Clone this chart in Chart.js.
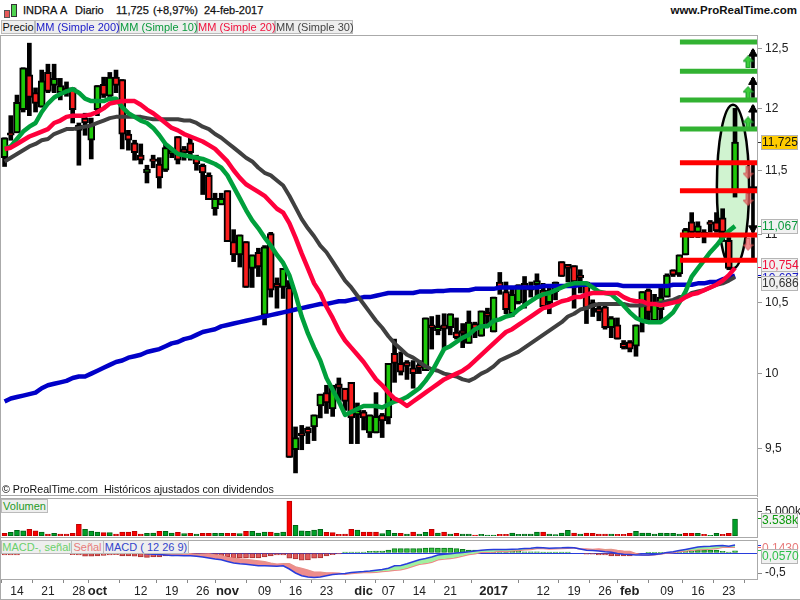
<!DOCTYPE html>
<html>
<head>
<meta charset="utf-8">
<title>INDRA A</title>
<script src="https://cdn.jsdelivr.net/npm/chart.js@4"></script>
<style>
html,body{margin:0;padding:0;background:#fff;}
#page{position:relative;width:800px;height:600px;overflow:hidden;background:#fff;font-family:"Liberation Sans",Arial,sans-serif;font-size:11px;color:#111;}
#page canvas{position:absolute;left:0;}
.txt{position:absolute;white-space:pre;}
.head{-webkit-text-stroke:0.25px #111;top:4px;word-spacing:1px;}
.chip{position:absolute;height:12px;line-height:12px;background:#eeeeee;border:1px solid #bbbbbb;text-align:center;font-size:11px;white-space:pre;box-sizing:content-box;}
.tag{position:absolute;left:761px;width:35px;height:13px;line-height:13px;background:#f1f1f1;border:1px solid #b5b5b5;text-align:center;font-size:12px;}
.rule{position:absolute;background:#aaaaaa;}
</style>
</head>
<body>
<div id="page">
  <canvas id="mainChart" width="800" height="462" style="top:35px"></canvas>
  <canvas id="volChart" width="800" height="39" style="top:498px"></canvas>
  <canvas id="macdChart" width="800" height="60" style="top:540px"></canvas>

  <!-- marcos de los paneles -->
  <div class="rule" style="left:0;top:35px;width:758px;height:1px"></div>
  <div class="rule" style="left:0;top:495px;width:758px;height:1px"></div>
  <div class="rule" style="left:0;top:498px;width:758px;height:1px"></div>
  <div class="rule" style="left:0;top:537px;width:758px;height:1px"></div>
  <div class="rule" style="left:0;top:540px;width:758px;height:1px"></div>
  <div class="rule" style="left:0;top:35px;width:1px;height:565px"></div>
  <div class="rule" style="left:0;top:599px;width:800px;height:1px"></div>
  <div class="rule" style="left:757px;top:35px;width:1px;height:461px"></div>
  <div class="rule" style="left:757px;top:498px;width:1px;height:40px"></div>
  <div class="rule" style="left:757px;top:540px;width:1px;height:40px"></div>

  <!-- icono -->
  <div style="position:absolute;left:4px;top:10px;width:4px;height:6px;background:#e85a5a;border:1px solid #555"></div>
  <div style="position:absolute;left:11px;top:4px;width:4px;height:11px;background:#4fd24f;border:1px solid #333"></div>

  <!-- cabecera -->
  <div class="txt head" style="left:23px">INDRA A</div>
  <div class="txt head" style="left:75px">Diario</div>
  <div class="txt head" style="left:116px">11,725 (+8,97%)</div>
  <div class="txt head" style="left:204px">24-feb-2017</div>
  <div class="txt" style="right:3px;top:4px;font-weight:bold;font-size:11.5px">www.ProRealTime.com</div>

  <div class="chip" style="left:1px;top:20px;width:32px;color:#111">Precio</div>
  <div class="chip" style="left:35px;top:20px;width:82px;color:#1a1ac8">MM (Simple 200)</div>
  <div class="chip" style="left:119px;top:20px;width:76px;color:#0a9a3c">MM (Simple 10)</div>
  <div class="chip" style="left:197px;top:20px;width:76px;color:#f0103c">MM (Simple 20)</div>
  <div class="chip" style="left:275px;top:20px;width:76px;color:#444">MM (Simple 30)</div>

  <div class="txt" style="left:2px;top:483px;font-size:10.7px">© ProRealTime.com  Históricos ajustados con dividendos</div>

  <div class="chip" style="left:1px;top:499px;width:45px;color:#1f9a1f">Volumen</div>
  <div class="chip" style="left:1px;top:540px;width:69px;color:#6bd06b">MACD-, señal</div>
  <div class="chip" style="left:71px;top:540px;width:31px;color:#e87b7b">Señal</div>
  <div class="chip" style="left:103px;top:540px;width:84px;color:#3344cc">MACD ( 12 26 9)</div>

  <!-- etiquetas de valor -->
  <div class="tag" style="top:135px;background:#ffcc00;color:#111">11,725</div>
  <div class="tag" style="top:219px;color:#0a9a3c">11,067</div>
  <div class="tag" style="top:258px;color:#f0103c">10,754</div>
  <div class="tag" style="top:271px;color:#1a1ac8">10,697</div>
  <div class="tag" style="top:276px;color:#333">10,686</div>
  <div class="tag" style="top:513px;color:#0a9a0a">3.538k</div>
  <div class="tag" style="top:541px;background:#fff;border-color:#fff;color:#e87b7b">0,1430</div>
  <div class="tag" style="top:549px;background:#f1f1f1;color:#2fc04a">0,0570</div>
</div>

<script>
//Datos (119 sesiones)
var priceOpen = [
11.60,11.80,11.80,11.99,12.28,12.13,12.01,12.30,12.19,12.13,
12.13,12.17,11.86,11.92,11.74,11.99,12.20,12.10,12.26,12.24,
11.79,11.72,11.62,11.48,11.59,11.55,11.50,11.63,11.77,11.67,
11.72,11.60,11.54,11.46,11.20,11.23,11.34,10.95,10.85,10.95,
10.75,10.87,10.41,11.01,10.64,10.61,10.61,9.49,9.60,9.63,
9.64,9.78,9.87,9.76,9.93,9.90,9.94,9.72,9.74,9.60,
9.60,9.72,9.70,10.14,10.07,10.08,10.04,10.06,10.02,10.34,
10.30,10.34,10.32,10.29,10.30,10.21,10.35,10.26,10.43,10.29,
10.65,10.58,10.42,10.50,10.64,10.59,10.63,10.59,10.50,10.58,
10.80,10.78,10.77,10.70,10.65,10.50,10.46,10.47,10.32,10.34,
10.21,10.22,10.19,10.37,10.59,10.37,10.45,10.54,10.74,10.71,
10.85,11.10,11.02,10.99,11.10,11.10,11.13,10.96,11.34];
var priceClose = [
11.76,11.78,12.05,12.34,12.09,12.04,12.23,12.14,12.25,12.19,
12.17,11.99,11.82,11.88,11.86,12.19,12.11,12.26,12.19,11.79,
11.74,11.64,11.58,11.51,11.57,11.44,11.68,11.66,11.58,11.64,
11.64,11.55,11.48,11.27,11.28,11.28,10.95,10.85,11.00,10.61,
10.85,10.76,10.91,10.59,10.61,10.75,9.44,9.57,9.58,9.60,
9.72,9.86,9.80,9.90,9.90,9.81,9.70,9.75,9.70,9.72,
9.71,9.68,10.07,10.07,10.01,10.05,10.00,10.04,10.39,10.32,
10.33,10.31,10.42,10.25,10.28,10.36,10.31,10.44,10.40,10.54,
10.61,10.45,10.56,10.63,10.61,10.62,10.66,10.47,10.58,10.65,
10.69,10.75,10.65,10.68,10.46,10.47,10.43,10.32,10.39,10.24,
10.18,10.17,10.34,10.58,10.43,10.49,10.54,10.70,10.70,10.85,
11.04,11.02,11.07,11.02,11.08,11.03,11.02,10.75,11.725];
var priceHigh = [
11.76,11.94,12.11,12.34,12.55,12.17,12.32,12.37,12.37,12.25,
12.22,12.17,11.88,11.96,11.92,12.19,12.26,12.30,12.32,12.24,
11.82,11.74,11.71,11.54,11.62,11.60,11.71,11.67,11.77,11.69,
11.76,11.62,11.55,11.48,11.32,11.32,11.34,11.04,11.00,10.95,
10.85,10.90,10.92,11.02,10.68,10.75,10.66,9.64,9.65,9.64,
9.72,9.86,9.92,9.92,9.97,9.90,9.94,9.80,9.75,9.72,
9.87,9.73,10.07,10.24,10.15,10.09,10.09,10.09,10.39,10.40,
10.41,10.42,10.42,10.39,10.35,10.44,10.36,10.44,10.46,10.54,
10.72,10.65,10.61,10.63,10.69,10.65,10.71,10.64,10.63,10.65,
10.80,10.78,10.77,10.74,10.65,10.52,10.49,10.48,10.40,10.39,
10.23,10.23,10.34,10.58,10.60,10.56,10.61,10.71,10.74,10.85,
11.05,11.17,11.10,11.04,11.11,11.17,11.20,10.98,12.00];
var priceLow = [
11.53,11.74,11.80,11.97,11.94,11.97,12.01,12.13,12.13,12.07,
12.10,11.88,11.54,11.78,11.59,11.94,12.09,12.07,12.13,11.67,
11.66,11.58,11.55,11.40,11.52,11.36,11.49,11.60,11.55,11.58,
11.58,11.50,11.31,11.27,11.15,11.23,10.95,10.80,10.76,10.61,
10.61,10.69,10.34,10.54,10.46,10.53,9.44,9.34,9.49,9.53,
9.55,9.70,9.73,9.71,9.82,9.75,9.53,9.53,9.62,9.57,
9.60,9.57,9.66,9.94,9.99,9.96,9.90,10.00,10.02,10.17,
10.27,10.17,10.27,10.24,10.18,10.21,10.25,10.26,10.35,10.29,
10.56,10.42,10.40,10.49,10.46,10.54,10.54,10.47,10.42,10.52,
10.69,10.65,10.46,10.57,10.35,10.40,10.37,10.31,10.25,10.24,
10.17,10.15,10.12,10.29,10.35,10.36,10.37,10.54,10.69,10.69,
10.85,10.98,10.98,10.94,11.02,11.02,10.95,10.74,11.29];

//medias moviles
var ma200 = [
9.81,9.83,9.84,9.85,9.86,9.87,9.90,9.92,9.93,9.94,
9.95,9.97,9.98,9.98,10.00,10.02,10.04,10.06,10.08,10.09,
10.11,10.12,10.13,10.15,10.16,10.17,10.19,10.21,10.22,10.24,
10.25,10.27,10.29,10.30,10.31,10.33,10.34,10.35,10.36,10.37,
10.38,10.39,10.40,10.41,10.42,10.43,10.44,10.45,10.46,10.47,
10.48,10.49,10.49,10.50,10.51,10.51,10.52,10.53,10.54,10.54,
10.55,10.56,10.57,10.57,10.57,10.57,10.57,10.58,10.58,10.58,
10.585,10.585,10.59,10.59,10.59,10.59,10.60,10.60,10.60,10.60,
10.61,10.61,10.61,10.61,10.61,10.61,10.61,10.62,10.62,10.62,
10.62,10.62,10.62,10.63,10.63,10.63,10.63,10.63,10.63,10.63,
10.62,10.62,10.62,10.62,10.62,10.62,10.62,10.62,10.63,10.63,
10.63,10.63,10.64,10.64,10.65,10.65,10.67,10.68,10.697];
var ma10 = [
11.67,11.69,11.75,11.81,11.85,11.88,11.97,12.04,12.09,12.12,
12.14,12.16,12.13,12.08,12.06,12.06,12.06,12.08,12.08,12.01,
11.96,11.93,11.90,11.88,11.84,11.78,11.71,11.67,11.63,11.62,
11.61,11.60,11.59,11.57,11.55,11.52,11.46,11.37,11.28,11.19,
11.11,11.05,10.98,10.92,10.85,10.79,10.70,10.56,10.40,10.28,
10.18,10.09,9.97,9.89,9.81,9.72,9.74,9.76,9.78,9.78,
9.78,9.77,9.79,9.81,9.82,9.84,9.87,9.90,9.95,10.01,
10.09,10.17,10.19,10.22,10.25,10.27,10.31,10.33,10.33,10.37,
10.38,10.40,10.41,10.45,10.48,10.51,10.54,10.56,10.57,10.59,
10.61,10.63,10.64,10.64,10.64,10.61,10.58,10.57,10.56,10.52,
10.48,10.43,10.39,10.37,10.36,10.36,10.36,10.39,10.43,10.50,
10.58,10.69,10.75,10.81,10.87,10.92,10.98,11.03,11.067];
var ma20 = [
11.67,11.68,11.71,11.74,11.77,11.79,11.81,11.83,11.88,11.90,
11.93,11.94,11.94,11.94,11.95,11.97,12.00,12.04,12.05,12.06,
12.06,12.06,12.03,11.99,11.96,11.92,11.88,11.84,11.82,11.79,
11.77,11.75,11.73,11.70,11.67,11.62,11.57,11.50,11.44,11.39,
11.36,11.33,11.30,11.25,11.20,11.17,11.09,10.98,10.86,10.75,
10.64,10.57,10.47,10.39,10.30,10.23,10.18,10.13,10.08,10.02,
9.96,9.92,9.87,9.83,9.81,9.78,9.81,9.84,9.87,9.90,
9.93,9.96,9.98,10.00,10.02,10.05,10.09,10.13,10.17,10.21,
10.25,10.29,10.31,10.34,10.37,10.40,10.43,10.46,10.47,10.49,
10.51,10.52,10.54,10.54,10.56,10.57,10.57,10.57,10.57,10.57,
10.54,10.52,10.51,10.51,10.49,10.49,10.48,10.49,10.50,10.51,
10.54,10.56,10.57,10.59,10.61,10.63,10.66,10.70,10.754];
var ma30 = [
11.57,11.60,11.63,11.66,11.69,11.71,11.74,11.75,11.79,11.81,
11.83,11.83,11.84,11.85,11.86,11.88,11.90,11.92,11.93,11.93,
11.93,11.93,11.93,11.92,11.91,11.91,11.91,11.91,11.91,11.90,
11.90,11.88,11.85,11.83,11.79,11.76,11.72,11.68,11.64,11.60,
11.57,11.52,11.48,11.46,11.42,11.38,11.30,11.21,11.12,11.05,
10.99,10.92,10.87,10.80,10.73,10.66,10.61,10.55,10.49,10.43,
10.37,10.32,10.26,10.21,10.17,10.13,10.11,10.08,10.05,10.03,
10.02,10.00,9.99,9.98,9.96,9.95,9.97,10.00,10.02,10.05,
10.09,10.11,10.13,10.15,10.18,10.21,10.24,10.27,10.30,10.33,
10.36,10.40,10.42,10.45,10.46,10.48,10.49,10.49,10.49,10.49,
10.49,10.48,10.48,10.48,10.49,10.49,10.50,10.51,10.52,10.54,
10.54,10.57,10.58,10.59,10.61,10.63,10.64,10.66,10.686];

//volumen (miles) y color de cada barra: u = sube, d = baja
var volume = [
550,760,1170,1100,1380,1100,830,410,550,410,
410,550,2420,1380,1040,830,690,690,410,830,
830,970,410,550,620,970,970,620,760,480,
550,410,550,550,550,550,550,550,480,970,
970,620,830,830,620,830,7250,2210,1100,970,
1240,1380,760,690,350,410,1380,1240,830,830,
830,480,1170,550,550,410,830,410,760,1380,
620,830,410,550,410,410,210,350,210,210,
350,350,620,350,410,410,830,830,410,280,
620,1170,620,410,620,550,410,410,410,350,
350,550,970,620,620,410,620,550,550,410,
550,550,550,350,140,550,350,550,3538];
var volumeDir = [
"duuuddudud","ddduuududd","ddduuduudu","dudduuddud",
"uuuduuduuu","uudddddudd","duuu",
"duduududud","uuduuudduu","uuuduuuudu","ddddudddu","u",
"uuuuuuddud","uuddu"
].join("");

//MACD
var macdLine = [
.02,.03,.05,.08,.10,.10,.11,.11,.11,.10,
.09,.09,.07,.06,.05,.05,.05,.05,.04,.03,
.03,.02,0,-.02,-.03,-.04,-.05,-.06,-.06,-.07,
-.07,-.08,-.10,-.125,-.15,-.17,-.21,-.25,-.27,-.28,
-.30,-.32,-.32,-.325,-.33,-.32,-.40,-.50,-.57,-.60,
-.61,-.60,-.57,-.54,-.525,-.51,-.49,-.475,-.465,-.45,
-.43,-.415,-.38,-.32,-.31,-.27,-.22,-.17,-.14,-.10,
-.05,-.03,-.02,0,.015,.03,.05,.07,.08,.085,
.09,.09,.095,.10,.11,.12,.14,.13,.12,.125,
.13,.14,.13,.10,.07,.06,.05,.03,.02,-.01,
-.03,-.04,-.05,-.05,-.05,-.04,-.02,.01,.03,.06,
.09,.12,.15,.165,.17,.18,.185,.17,.20];
var macdSignal = [
.07,.08,.10,.06,.08,.08,.09,.09,.09,.08,
.07,.13,.12,.15,.14,.13,.11,.10,.09,.10,
.10,.10,.10,.09,.07,.06,.02,.01,0,-.01,
-.02,-.04,-.03,-.025,-.05,-.07,-.11,-.13,-.15,-.16,
-.18,-.20,-.22,-.255,-.28,-.27,-.27,-.35,-.39,-.43,
-.48,-.48,-.50,-.50,-.505,-.53,-.515,-.50,-.49,-.49,
-.48,-.465,-.45,-.43,-.42,-.38,-.33,-.28,-.26,-.23,
-.17,-.15,-.14,-.11,-.075,-.04,-.02,.02,.02,.025,
.05,.04,.055,.06,.08,.09,.11,.11,.10,.105,
.11,.12,.13,.10,.10,.09,.10,.08,.09,.065,
.045,.035,-.02,-.05,-.055,-.045,-.025,0,.01,.035,
.05,.07,.08,.09,.10,.11,.145,.145,.143];
var macdHist = [
-.05,-.05,-.05,.02,.02,.02,.02,.02,.02,.02,
.02,-.04,-.05,-.08,-.08,-.075,-.06,-.05,-.04,-.07,
-.07,-.08,-.10,-.11,-.10,-.10,-.07,-.07,-.06,-.06,
-.05,-.04,-.07,-.10,-.10,-.10,-.10,-.12,-.12,-.12,
-.12,-.12,-.10,-.07,-.05,-.05,-.13,-.15,-.18,-.17,
-.13,-.12,-.07,-.04,-.02,.02,.025,.025,.025,.04,
.05,.05,.07,.11,.11,.11,.11,.11,.12,.13,
.12,.12,.12,.11,.09,.07,.07,.05,.06,.06,
.04,.05,.04,.04,.03,.03,.03,.02,.02,.02,
.02,.02,0,0,-.03,-.03,-.05,-.05,-.07,-.075,
-.075,-.075,-.03,0,.005,.005,.005,.01,.02,.025,
.04,.05,.07,.075,.07,.07,.04,.025,.057];

//ejes
var priceTicks = [9.5,10,10.5,11,11.5,12,12.5];
var priceTags = [10.686,10.697,10.754,11.067,11.725];
var dateTicks = [2,7,12,15,22,27,32,36,42,47,52,58,62,67,72,79,87,92,97,101,107,112,117];
var dateLabels = ["14","21","28","oct","12","19","26","nov","09","16","23","dic","07","14","21","2017","12","19","26","feb","09","16","23"];
var boldLabels = ["oct","nov","dic","2017","feb"];

//dibujos del analista
var greenLevels = [12.56,12.31,12.07,11.83];
var redLevels = [11.56,11.34,11.00,10.81];
var levelFrom = 109.1;
var levelTo = 121.55;
var arrowX = 120.9;
var upShafts = [[12.34,12.49],[12.09,12.25],[11.84,12.02]];
var downShafts = [[11.37,11.56],[11.02,11.33],[10.81,10.98]];
var upMarks = [12.46,12.22,11.99];
var downMarks = [11.35,11.05];
var smallArrowX = 120.1;
var smallUps = [12.39,12.13,11.88];
var smallDowns = [11.48,11.27,10.93];
var ovalX = 117.67, ovalHalf = 2.6, ovalTop = 12.03, ovalBottom = 10.75;

var RED = "rgb(250,30,30)", GREEN = "rgb(30,200,10)";

function points(values){
    return values.map(function(v,i){ return {x:i,y:v}; });
}

//flecha pequeña usada como estilo de punto
function smallArrow(color,edge,up){
    var c = document.createElement("canvas");
    c.width = 11; c.height = 13;
    var g = c.getContext("2d");
    var p = up ? [[5.5,0.5],[10.5,6],[7.5,6],[7.5,12.5],[3.5,12.5],[3.5,6],[0.5,6]]
               : [[5.5,12.5],[10.5,7],[7.5,7],[7.5,0.5],[3.5,0.5],[3.5,7],[0.5,7]];
    g.beginPath();
    p.forEach(function(q,i){ if(i==0) g.moveTo(q[0],q[1]); else g.lineTo(q[0],q[1]); });
    g.closePath();
    g.fillStyle = color; g.fill();
    g.strokeStyle = edge; g.stroke();
    return c;
}

Chart.defaults.font.family = "'Liberation Sans', Arial, sans-serif";
Chart.defaults.font.size = 12;
Chart.defaults.color = "#222";
Chart.defaults.animation = false;
Chart.defaults.responsive = false;
Chart.defaults.layout.autoPadding = false;
Chart.defaults.plugins.legend.display = false;
Chart.defaults.plugins.tooltip.enabled = false;

//eje derecho con ancho fijo y sin margen extra
function fixY(scale){
    scale.width = 43;
    scale.paddingTop = 0;
    scale.paddingBottom = 0;
}
var xHidden = {type:"linear",min:-0.58,max:121.55,offset:false,display:false};

function maLine(values,color,width){
    return {type:"line",data:points(values),borderColor:color,borderWidth:width,pointRadius:0,fill:false,tension:0,borderJoinStyle:"round"};
}

//ovalo verde, debajo de las velas
var ovalPlugin = {
    id:"oval",
    beforeDatasetsDraw:function(chart){
        var x = chart.scales.x, y = chart.scales.y, c = chart.ctx;
        var top = y.getPixelForValue(ovalTop), bottom = y.getPixelForValue(ovalBottom);
        var cx = x.getPixelForValue(ovalX);
        var rx = x.getPixelForValue(ovalX+ovalHalf)-cx;
        c.save();
        c.beginPath();
        c.ellipse(cx,(top+bottom)/2,rx,(bottom-top)/2,0,0,Math.PI*2);
        c.fillStyle = "rgb(208,243,208)";
        c.fill();
        c.lineWidth = 2.5;
        c.strokeStyle = "#000";
        c.stroke();
        c.restore();
    }
};

var mainSets = [];
//niveles horizontales
greenLevels.forEach(function(v){
    mainSets.push({type:"line",data:[{x:levelFrom,y:v},{x:levelTo,y:v}],borderColor:"rgb(50,178,50)",borderWidth:5,pointRadius:0,borderCapStyle:"butt"});
});
redLevels.forEach(function(v){
    mainSets.push({type:"line",data:[{x:levelFrom,y:v},{x:levelTo,y:v}],borderColor:"rgb(255,0,0)",borderWidth:5,pointRadius:0,borderCapStyle:"butt"});
});
//flechas
mainSets.push({type:"scatter",data:smallUps.map(function(v){return {x:smallArrowX,y:v};}),pointStyle:smallArrow("rgb(60,205,60)","rgb(20,150,40)",true),showLine:false});
mainSets.push({type:"scatter",data:smallDowns.map(function(v){return {x:smallArrowX,y:v};}),pointStyle:smallArrow("rgba(235,100,100,.75)","rgba(200,70,70,.8)",false),showLine:false});
mainSets.push({type:"scatter",data:upMarks.map(function(v){return {x:arrowX,y:v};}),pointStyle:"triangle",pointRadius:5,backgroundColor:"#000",borderColor:"#000",showLine:false});
mainSets.push({type:"scatter",data:downMarks.map(function(v){return {x:arrowX,y:v};}),pointStyle:"triangle",rotation:180,pointRadius:5,backgroundColor:"#000",borderColor:"#000",showLine:false});
mainSets.push({type:"bar",grouped:false,barThickness:3,backgroundColor:"#000",data:upShafts.concat(downShafts).map(function(s){return {x:arrowX,y:s};})});
//medias
mainSets.push(maLine(ma20,"rgb(255,0,60)",4.5));
mainSets.push(maLine(ma10,"rgb(0,160,60)",4.5));
mainSets.push(maLine(ma30,"rgb(64,64,64)",4));
mainSets.push(maLine(ma200,"rgb(0,0,200)",4.5));
//velas: cuerpo encima de la mecha
mainSets.push({
    type:"bar",grouped:false,barThickness:7,borderWidth:2,borderColor:"#000",borderSkipped:false,
    backgroundColor:function(ctx){ return priceClose[ctx.dataIndex]>=priceOpen[ctx.dataIndex] ? GREEN : RED; },
    data:priceOpen.map(function(v,i){ return {x:i,y:[v,priceClose[i]]}; })
});
mainSets.push({
    type:"bar",grouped:false,barThickness:4,backgroundColor:"#000",
    data:priceLow.map(function(v,i){ return {x:i,y:[v,priceHigh[i]]}; })
});

var mainChart = new Chart(document.getElementById("mainChart").getContext("2d"),{
    type:"line",
    data:{datasets:mainSets},
    options:{
        layout:{padding:{left:1,top:1,bottom:1,right:0}},
        scales:{
            x:xHidden,
            y:{
                type:"logarithmic",position:"right",min:9.193,max:12.612,
                afterBuildTicks:function(s){
                    s.ticks = priceTicks.concat(priceTags).sort(function(a,b){return a-b;}).map(function(v){return {value:v};});
                },
                afterFit:fixY,
                border:{color:"#aaa"},
                grid:{
                    drawOnChartArea:false,tickLength:5,
                    tickColor:function(ctx){
                        var v = ctx.tick && ctx.tick.value;
                        if(v==11.067) return "rgb(0,160,60)";
                        if(v==10.754) return "rgb(255,0,60)";
                        if(v==10.697) return "rgb(0,0,200)";
                        if(v==10.686 || v==11.725) return "#333";
                        return "#999";
                    }
                },
                ticks:{
                    autoSkip:false,padding:3,color:"#222",
                    callback:function(v){ return priceTicks.indexOf(v)>=0 ? String(v).replace(".",",") : ""; }
                }
            }
        }
    },
    plugins:[ovalPlugin]
});

//Volumen
var volChart = new Chart(document.getElementById("volChart").getContext("2d"),{
    type:"bar",
    data:{datasets:[{
        grouped:false,barThickness:5,borderWidth:1,borderSkipped:false,
        data:points(volume),
        backgroundColor:function(ctx){ return volumeDir.charAt(ctx.dataIndex)=="d" ? "rgb(250,0,0)" : "rgb(0,160,40)"; },
        borderColor:function(ctx){ return volumeDir.charAt(ctx.dataIndex)=="d" ? "rgb(190,0,0)" : "rgb(0,100,20)"; }
    }]},
    options:{
        layout:{padding:{left:1,top:0,bottom:1,right:0}},
        scales:{
            x:xHidden,
            y:{
                position:"right",min:0,max:7900,
                afterBuildTicks:function(s){ s.ticks = [{value:3538},{value:5000}]; },
                afterFit:fixY,
                border:{color:"#aaa"},
                grid:{drawOnChartArea:false,tickLength:5,tickColor:function(ctx){ return ctx.tick && ctx.tick.value==3538 ? "#0a9a0a" : "#555"; }},
                ticks:{autoSkip:false,padding:3,callback:function(v){ return v==5000 ? "5.000k" : ""; }}
            }
        }
    }
});

//MACD
var macdChart = new Chart(document.getElementById("macdChart").getContext("2d"),{
    type:"bar",
    data:{datasets:[
        {type:"line",data:points(macdLine),borderColor:"rgb(40,60,220)",borderWidth:1.5,pointRadius:0,
         fill:{target:1,above:"rgb(160,240,160)",below:"rgb(238,140,140)"}},
        {type:"line",data:points(macdSignal),borderColor:"rgb(240,130,130)",borderWidth:1.5,pointRadius:0,fill:false},
        {type:"bar",grouped:false,barThickness:5,borderWidth:1,borderSkipped:false,data:points(macdHist),
         backgroundColor:function(ctx){ return macdHist[ctx.dataIndex]>=0 ? "rgb(50,190,60)" : "rgb(225,90,90)"; },
         borderColor:function(ctx){ return macdHist[ctx.dataIndex]>=0 ? "rgb(10,120,30)" : "rgb(170,50,50)"; }}
    ]},
    options:{
        layout:{padding:{left:1,top:0,bottom:0,right:0}},
        scales:{
            x:{
                type:"linear",min:-0.58,max:121.55,offset:false,
                afterBuildTicks:function(s){ s.ticks = dateTicks.map(function(v){return {value:v};}); },
                afterFit:function(s){ s.height = 21; s.paddingLeft = 0; s.paddingRight = 0; },
                border:{color:"#aaa"},
                grid:{drawOnChartArea:false,tickLength:4,tickColor:"#888"},
                ticks:{
                    autoSkip:false,maxRotation:0,padding:1,color:"#222",
                    callback:function(v){ return dateLabels[dateTicks.indexOf(v)]; },
                    font:function(ctx){
                        var bold = ctx.tick && boldLabels.indexOf(dateLabels[dateTicks.indexOf(ctx.tick.value)])>=0;
                        return bold ? {size:13,weight:"bold"} : {size:12};
                    }
                }
            },
            y:{
                position:"right",min:-0.65,max:0.325,
                afterBuildTicks:function(s){ s.ticks = [-.5,0,.057,.143,.2].map(function(v){return {value:v};}); },
                afterFit:fixY,
                border:{color:"#aaa"},
                grid:{
                    tickLength:5,
                    color:function(ctx){ return ctx.tick && ctx.tick.value==0 ? "rgb(40,60,220)" : "rgba(0,0,0,0)"; },
                    tickColor:function(ctx){
                        var v = ctx.tick && ctx.tick.value;
                        if(v==.2) return "rgb(40,60,220)";
                        if(v==.143) return "rgb(240,100,100)";
                        if(v==.057) return "#2fc04a";
                        return v==0 ? "rgba(0,0,0,0)" : "#888";
                    }
                },
                ticks:{autoSkip:false,padding:3,callback:function(v){ return v==-.5 ? "-0,5" : ""; }}
            }
        }
    }
});
</script>
</body>
</html>
